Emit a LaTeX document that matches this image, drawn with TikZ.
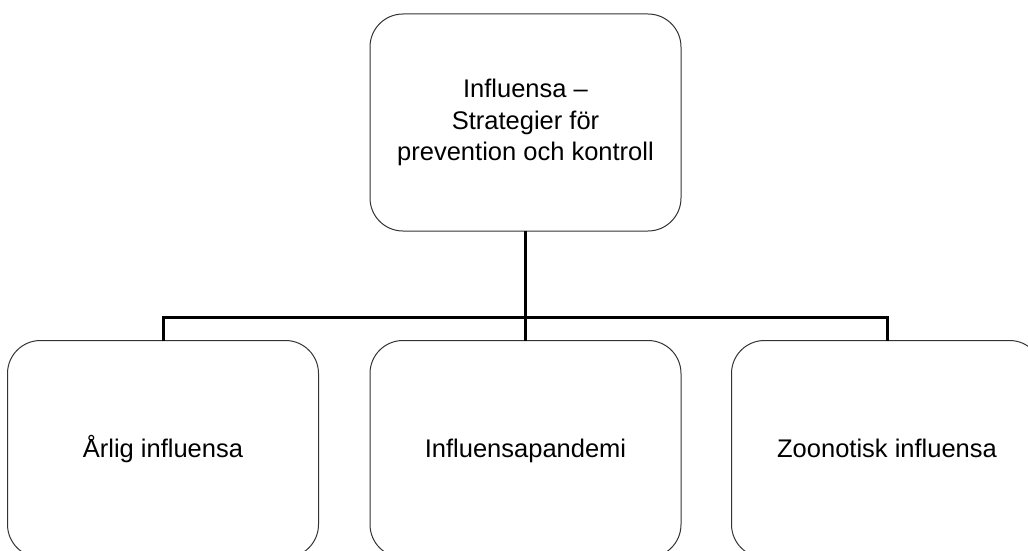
\documentclass[tikz,border=0pt]{standalone}
\usepackage{fontspec}
\setmainfont{Liberation Sans}
\usetikzlibrary{positioning}
\definecolor{boxLine}{HTML}{333333}

\begin{document}
\begin{tikzpicture}[
  x=1pt, y=-1pt,
  font=\fontsize{25.5}{31.5}\selectfont,
  orgBox/.style={draw=boxLine, line width=1pt, rounded corners=33pt, minimum width=311pt, minimum height=217pt, inner sep=0pt, outer sep=0pt, align=center},
  leafBox/.style={orgBox, text height=18pt, text depth=2pt},
  orgLink/.style={draw=black, line width=3pt}
]
\useasboundingbox (0,0) rectangle (1028,551);

\node[orgBox] (root) at (525.5,122.5) {Influensa --\\Strategier för\\prevention och kontroll};

\node[leafBox] (annual) at (163,449) {Årlig influensa};
\node[leafBox] (pandemic) at (525.5,449) {Influensapandemi};
\node[leafBox] (zoonotic) at (887,449) {Zoonotisk influensa};

\coordinate (bus) at (525.5,317);
\draw[orgLink] (root.south) -- (pandemic.north);
\draw[orgLink] (annual.north) |- (bus) -| (zoonotic.north);
\end{tikzpicture}
\end{document}
